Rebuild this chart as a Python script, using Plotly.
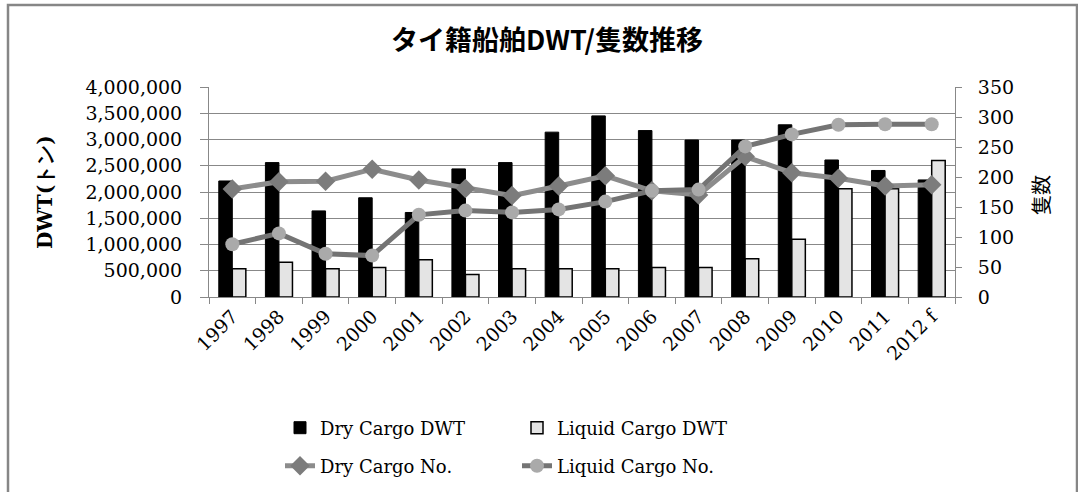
import plotly.graph_objects as go

years = ["1997", "1998", "1999", "2000", "2001", "2002", "2003", "2004",
         "2005", "2006", "2007", "2008", "2009", "2010", "2011", "2012 f"]
dry_dwt = [2210000, 2560000, 1640000, 1890000, 1610000, 2440000, 2560000, 3140000,
           3450000, 3170000, 2990000, 2990000, 3280000, 2610000, 2410000, 2230000]
liquid_dwt = [540000, 660000, 540000, 560000, 710000, 430000, 540000, 540000,
              540000, 560000, 560000, 730000, 1100000, 2060000, 2060000, 2600000]
dry_no = [180, 192, 193, 213, 195, 181, 169, 185, 202, 177, 170, 234, 207, 198, 185, 187]
liquid_no = [88, 106, 72, 69, 137, 144, 141, 146, 159, 177, 179, 251, 271, 287, 288, 288]

left_ticks = [0, 500000, 1000000, 1500000, 2000000, 2500000, 3000000, 3500000, 4000000]
right_ticks = [0, 50, 100, 150, 200, 250, 300, 350]

SERIF = "DejaVu Serif"
GRID = "#888888"

fig = go.Figure()
fig.add_trace(go.Bar(x=years, y=dry_dwt, name="Dry Cargo DWT",
                     marker=dict(color="#000000", line=dict(color="#000000", width=1)),
                     legend="legend"))
fig.add_trace(go.Bar(x=years, y=liquid_dwt, name="Liquid Cargo DWT",
                     marker=dict(color="#e4e4e4", line=dict(color="#000000", width=1.5)),
                     legend="legend"))
fig.add_trace(go.Scatter(x=years, y=dry_no, name="Dry Cargo No.", yaxis="y2",
                         mode="lines+markers",
                         line=dict(color="#8c8c8c", width=5),
                         marker=dict(symbol="diamond", size=15, color="#7c7c7c"),
                         legend="legend2"))
fig.add_trace(go.Scatter(x=years, y=liquid_no, name="Liquid Cargo No.", yaxis="y2",
                         mode="lines+markers",
                         line=dict(color="#747474", width=5),
                         marker=dict(symbol="circle", size=14, color="#aaaaaa"),
                         legend="legend2"))

L, R, T, B = 209, 123, 87, 195
PW, PH = 1078 - L - R, 492 - T - B

def px(xp):
    return (xp - L) / PW

def py(yp):
    return (492 - B - yp) / PH

fig.update_layout(
    width=1078, height=492,
    margin=dict(l=L, r=R, t=T, b=B, autoexpand=False),
    paper_bgcolor="white", plot_bgcolor="white",
    barmode="group", bargap=0.42, bargroupgap=0,
    font=dict(family=SERIF, size=19, color="#000000"),
    title=dict(text="<b>タイ籍船舶DWT/隻数推移</b>", x=547 / 1078, xanchor="center",
               y=1 - 41 / 492, yanchor="middle",
               font=dict(family="Noto Sans CJK JP", size=27, color="#000000")),
    xaxis=dict(type="category", range=[-0.5, len(years) - 0.5],
               showline=True, linecolor=GRID, linewidth=1,
               ticks="outside", tickson="boundaries", ticklen=6, tickcolor=GRID,
               tickangle=-45, tickfont=dict(family=SERIF, size=19), showgrid=False),
    yaxis=dict(range=[0, 4000000], tickvals=left_ticks, tickformat=",",
               showline=True, linecolor=GRID, linewidth=1,
               ticks="outside", ticklen=8, tickcolor=GRID, ticklabelstandoff=14,
               showgrid=True, gridcolor=GRID, gridwidth=1, zeroline=False,
               tickfont=dict(family=SERIF, size=19)),
    yaxis2=dict(range=[0, 350], tickvals=right_ticks, overlaying="y", side="right",
                showline=True, linecolor=GRID, linewidth=1,
                ticks="outside", ticklen=6, tickcolor=GRID, ticklabelstandoff=12,
                showgrid=False, zeroline=False,
                tickfont=dict(family=SERIF, size=19)),
    legend=dict(orientation="h", x=px(280), y=py(428), xanchor="left", yanchor="middle",
                entrywidth=192, entrywidthmode="pixels",
                font=dict(family=SERIF, size=18), bgcolor="rgba(0,0,0,0)"),
    legend2=dict(orientation="h", x=px(280), y=py(466), xanchor="left", yanchor="middle",
                 entrywidth=192, entrywidthmode="pixels",
                 font=dict(family=SERIF, size=18), bgcolor="rgba(0,0,0,0)"),
    showlegend=True,
)

fig.add_annotation(text="<b>DWT(トン)</b>", xref="paper", yref="paper",
                   x=px(45), y=0.5, xanchor="center", yanchor="middle",
                   textangle=-90, showarrow=False,
                   font=dict(family=SERIF, size=20, color="#000000"))
fig.add_annotation(text="隻数", xref="paper", yref="paper",
                   x=px(1040), y=py(195), xanchor="center", yanchor="middle",
                   textangle=-90, showarrow=False,
                   font=dict(family="Noto Sans CJK JP", size=20, color="#000000"))

fig.add_shape(type="rect", xref="paper", yref="paper",
              x0=px(8), x1=px(1077), y0=py(500), y1=py(5),
              line=dict(color="#868686", width=2.5), layer="below")

fig.write_html("out.html", config={"displayModeBar": False},
               post_script="document.body.style.margin='0';document.body.style.overflow='hidden';")
